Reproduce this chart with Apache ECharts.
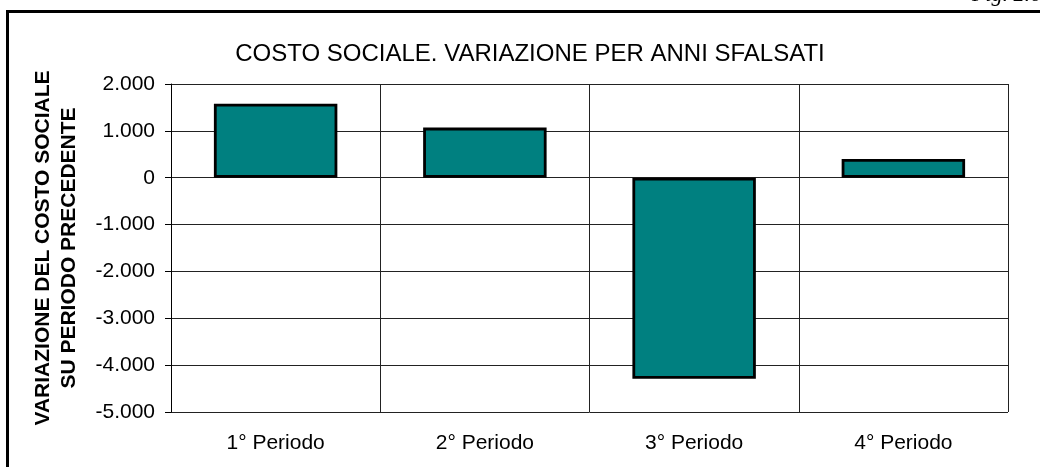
<!DOCTYPE html>
<html>
<head>
<meta charset="utf-8">
<script src="https://cdn.jsdelivr.net/npm/echarts@6/dist/echarts.min.js"></script>
<style>html,body{margin:0;padding:0;background:#fff;}#c{width:1040px;height:467px;}</style>
</head>
<body>
<div id="c"></div>
<script>
var categories = ['1° Periodo', '2° Periodo', '3° Periodo', '4° Periodo'];
var values = [1580, 1070, -4290, 400];
var yTicks = [-5000, -4000, -3000, -2000, -1000, 0, 1000, 2000];
var titleText = 'COSTO SOCIALE. VARIAZIONE PER ANNI SFALSATI';
var yName = 'VARIAZIONE DEL COSTO SOCIALE\nSU PERIODO PRECEDENTE';
var figLabel = 'Fig. 2.6';

function fmt(v) {
  var s = Math.abs(v).toString().replace(/\B(?=(\d{3})+(?!\d))/g, '.');
  return (v < 0 ? '-' : '') + s;
}

var chart = echarts.init(document.getElementById('c'), null, {renderer: 'canvas'});
chart.setOption({
  animation: false,
  backgroundColor: '#fff',
  title: {
    text: titleText,
    left: 525, top: 37, textAlign: 'center',
    textStyle: {fontFamily: 'Arial, Liberation Sans', fontSize: 24, fontWeight: 'normal', color: '#000'}
  },
  graphic: [
    {type: 'rect', shape: {x: 7.5, y: 11.5, width: 1200, height: 600}, style: {fill: null, stroke: '#000', lineWidth: 3}, silent: true},
    {type: 'text', left: 972, top: -16, style: {text: figLabel, font: 'italic 22px "Liberation Serif"', fill: '#000'}}
  ],
  grid: {left: 171, right: 32, top: 84, bottom: 55},
  xAxis: {
    type: 'category',
    data: categories,
    axisLine: {show: false, onZero: false},
    axisTick: {show: false},
    axisLabel: {fontFamily: 'Arial, Liberation Sans', fontSize: 21, color: '#000', margin: 21},
    splitLine: {show: true, lineStyle: {color: '#222', width: 1}}
  },
  yAxis: {
    type: 'value',
    min: yTicks[0], max: yTicks[yTicks.length - 1], interval: 1000,
    name: yName,
    nameLocation: 'middle', nameRotate: 90, nameGap: 89,
    nameTextStyle: {fontFamily: 'Arial, Liberation Sans', fontSize: 21, fontWeight: 'bold', color: '#000', lineHeight: 26},
    axisLine: {show: true, lineStyle: {color: '#000', width: 1}},
    axisTick: {show: true, length: 6, lineStyle: {color: '#000'}},
    axisLabel: {fontFamily: 'Arial, Liberation Sans', fontSize: 21, color: '#000', margin: 16, formatter: fmt},
    splitLine: {show: true, lineStyle: {color: '#222', width: 1}}
  },
  series: [{
    type: 'bar',
    data: values,
    barCategoryGap: '41%',
    itemStyle: {color: '#008080', borderColor: '#000', borderWidth: 2.8}
  }]
});
</script>
</body>
</html>
